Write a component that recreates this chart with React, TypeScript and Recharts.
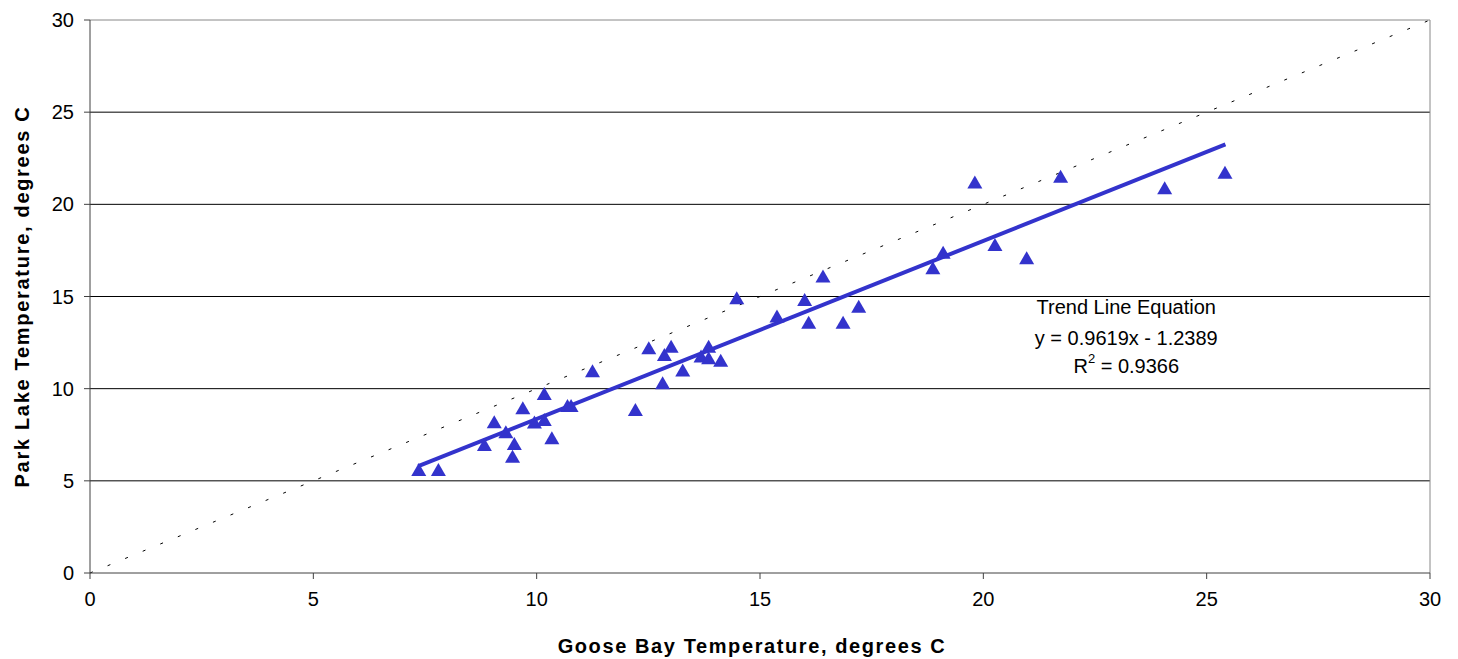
import { ScatterChart, Scatter, XAxis, YAxis, CartesianGrid, ReferenceLine, ReferenceDot } from "recharts";

// Goose Bay vs Park Lake temperatures, degrees C
const gooseBay = [
  7.36, 7.8, 8.83, 9.05, 9.31, 9.5, 9.46, 9.69, 9.95, 10.17, 10.17, 10.34, 10.69, 10.77,
  11.25, 12.21, 12.51, 12.82, 12.86, 13.01, 13.27, 13.68, 13.85, 13.85, 14.12, 14.48,
  15.38, 16.0, 16.09, 16.41, 16.86, 17.21, 18.87, 19.1, 19.81, 20.26, 20.97, 21.73, 24.06, 25.41,
];
const parkLake = [
  5.59, 5.59, 6.95, 8.18, 7.63, 7.0, 6.31, 8.94, 8.16, 9.71, 8.3, 7.31, 9.06, 9.06,
  10.95, 8.84, 12.19, 10.29, 11.83, 12.28, 10.98, 11.74, 12.28, 11.65, 11.52, 14.9,
  13.91, 14.81, 13.58, 16.08, 13.58, 14.45, 16.53, 17.38, 21.18, 17.8, 17.08, 21.5, 20.87, 21.72,
];
// fitted trend line end points, as drawn
const trendX = [7.35, 25.42];
const trendY = [5.8, 23.25];
const ticks = [0, 5, 10, 15, 20, 25, 30];

const points = gooseBay.map((x, i) => ({ x, y: parkLake[i] }));
const trend = trendX.map((x, i) => ({ x, y: trendY[i] }));

const BLUE = "#3333CC";
const FONT = "'Liberation Sans', Arial, sans-serif";

const Triangle = (props: any) => {
  const { cx, cy } = props;
  if (cx == null || cy == null) return <g />;
  return <polygon points={`${cx},${cy - 7} ${cx + 7.5},${cy + 6} ${cx - 7.5},${cy + 6}`} fill={BLUE} />;
};

const Annotation = (props: any) => {
  const { cx, cy } = props;
  return (
    <g fontFamily={FONT} fontSize={20} fill="#000" textAnchor="middle">
      <text x={cx} y={cy - 31} dominantBaseline="central">Trend Line Equation</text>
      <text x={cx} y={cy} dominantBaseline="central">y = 0.9619x - 1.2389</text>
      <text x={cx} y={cy + 28} dominantBaseline="central">
        R<tspan fontSize={13} dy={-8}>2</tspan>
        <tspan dy={8}> = 0.9366</tspan>
      </text>
    </g>
  );
};

export default function App() {
  return (
    <div style={{ position: "absolute", left: 0, top: 0, background: "#fff" }}>
      <ScatterChart width={1458} height={659} margin={{ top: 20, right: 28, bottom: 0, left: 0 }}>
        <CartesianGrid horizontal vertical={false} stroke="#000" horizontalValues={[5, 10, 15, 20, 25]} />
        <ReferenceLine y={30} stroke="#888" />
        <ReferenceLine x={30} stroke="#888" />
        <XAxis
          type="number"
          dataKey="x"
          domain={[0, 30]}
          ticks={ticks}
          height={86}
          stroke="#404040"
          tickSize={6}
          tickMargin={13}
          tick={{ fill: "#000", fontSize: 20, fontFamily: FONT }}
          label={(p: any) => {
            const vb = p.viewBox;
            return (
              <text x={vb.x + vb.width / 2 - 8} y={vb.y + 80} textAnchor="middle" fontFamily={FONT} fontSize={20} fontWeight="bold" letterSpacing={1.6} fill="#000">
                Goose Bay Temperature, degrees C
              </text>
            );
          }}
        />
        <YAxis
          type="number"
          dataKey="y"
          domain={[0, 30]}
          ticks={ticks}
          width={90}
          stroke="#404040"
          tickSize={6}
          tickMargin={10}
          tick={{ fill: "#000", fontSize: 20, fontFamily: FONT }}
          label={(p: any) => {
            const vb = p.viewBox;
            const cy = vb.y + vb.height / 2;
            return (
              <text x={22} y={cy} transform={`rotate(-90 22 ${cy})`} textAnchor="middle" dominantBaseline="central" fontFamily={FONT} fontSize={20} fontWeight="bold" letterSpacing={1.7} fill="#000">
                Park Lake Temperature, degrees C
              </text>
            );
          }}
        />
        <ReferenceLine segment={[{ x: 0, y: 0 }, { x: 30, y: 30 }]} stroke="#000" strokeWidth={1} strokeDasharray="3 16" />
        <Scatter data={trend} line={{ stroke: BLUE, strokeWidth: 4 }} shape={() => <g />} isAnimationActive={false} />
        <Scatter data={points} shape={Triangle} isAnimationActive={false} />
        <ReferenceDot x={23.2} y={12.75} r={1} shape={Annotation} />
      </ScatterChart>
    </div>
  );
}
